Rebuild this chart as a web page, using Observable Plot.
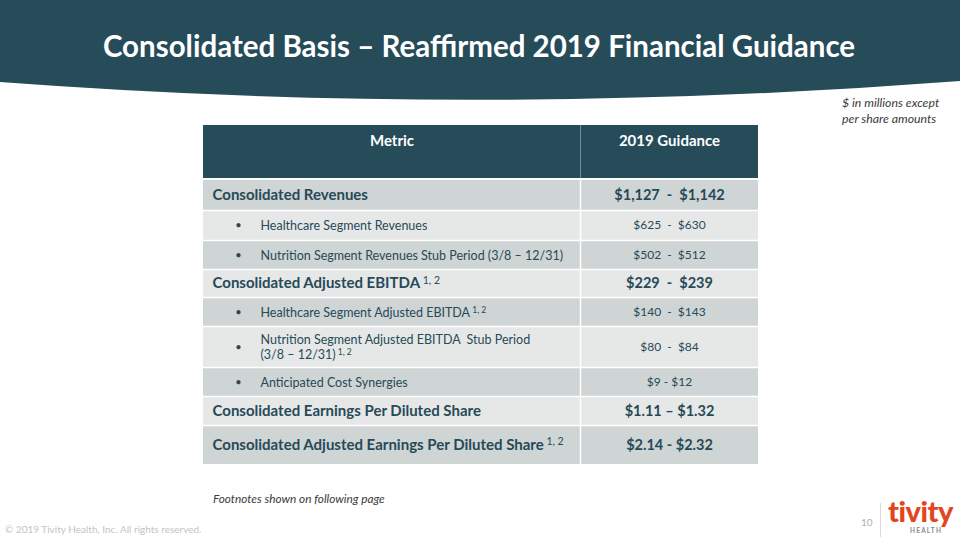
<!DOCTYPE html>
<html><head><meta charset="utf-8">
<script src="https://cdn.jsdelivr.net/npm/d3@7"></script>
<script src="https://cdn.jsdelivr.net/npm/@observablehq/plot@0.6"></script>
<style>
html,body{margin:0;padding:0;background:#fff}
body{width:960px;height:540px;position:relative;overflow:hidden;font-family:Lato,"Open Sans",sans-serif}
#banner{position:absolute;left:0;top:0}
#title{position:absolute;left:0;top:28px;width:958px;text-align:center;color:#fff;font-weight:700;font-size:29.5px;line-height:36px;white-space:nowrap}
#unit{position:absolute;left:842px;top:95px;font-style:italic;font-size:12.3px;line-height:16px;color:#3a3a3a}
#table{position:absolute;left:203px;top:125px}
#foot{position:absolute;left:213px;top:491px;font-style:italic;font-size:11.8px;color:#3a3a3a}
#copy{position:absolute;left:5px;top:523px;font-size:10px;color:#c4c4c4}
#page{position:absolute;left:861px;top:516px;font-size:10px;color:#b0b0b0}
#sep{position:absolute;left:880px;top:503px;width:1px;height:34px;background:#dcdcdc}
#logo{position:absolute;left:888px;top:496px;font-weight:900;font-size:29px;color:#e2461d;letter-spacing:-0.5px;line-height:30px}
#health{position:absolute;left:910px;top:527px;font-size:6.5px;font-weight:700;letter-spacing:1.2px;color:#8a8a8a}
</style></head>
<body>
<svg id="banner" width="960" height="110"><path d="M0,0H960V81Q480,118 0,82Z" fill="#264c5a"/></svg>
<div id="title">Consolidated Basis – Reaffirmed 2019 Financial Guidance</div>
<div id="unit">$ in millions except<br>per share amounts</div>
<div id="table"></div>
<div id="foot">Footnotes shown on following page</div>
<div id="copy">© 2019 Tivity Health, Inc. All rights reserved.</div>
<div id="page">10</div>
<div id="sep"></div>
<div id="logo">tivity</div>
<div id="health">HEALTH</div>
<script>
// ---- data ----
const columns = ["Metric", "2019 Guidance"];
const metrics = [
  "Consolidated Revenues",
  "Healthcare Segment Revenues",
  "Nutrition Segment Revenues Stub Period (3/8 – 12/31)",
  "Consolidated Adjusted EBITDA",
  "Healthcare Segment Adjusted EBITDA",
  "Nutrition Segment Adjusted EBITDA  Stub Period\n(3/8 – 12/31)",
  "Anticipated Cost Synergies",
  "Consolidated Earnings Per Diluted Share",
  "Consolidated Adjusted Earnings Per Diluted Share"
];
const guidance = [
  "$1,127  -  $1,142",
  "$625  -  $630",
  "$502  -  $512",
  "$229  -  $239",
  "$140  -  $143",
  "$80  -  $84",
  "$9 - $12",
  "$1.11 – $1.32",
  "$2.14 - $2.32"
];
const rowKind = ["total","segment","segment","total","segment","segment","segment","total","total"];
const footnotes = ["", "", "", "1, 2", "1, 2", "1, 2", "", "", "1, 2"];

// ---- layout ----
const W = 555, headerH = 53, gap = 2;
const rowH = [30, 30, 29, 28, 29, 41, 29, 29, 39];
const colEdge = [0, 377, 555];
let acc = headerH + gap;
const rows = metrics.map((m, i) => {
  const r = {i, metric: m, guidance: guidance[i], kind: rowKind[i], note: footnotes[i], y1: acc, y2: acc + rowH[i]};
  acc += rowH[i];
  return r;
});
const H = acc + 2;
const head = columns.map((c, i) => ({c, x1: colEdge[i], x2: colEdge[i + 1]}));
const ink = "#264a57";
const mid = r => (r.y1 + r.y2) / 2;
const totals = rows.filter(r => r.kind === "total");
const segs = rows.filter(r => r.kind === "segment");

const chart = Plot.plot({
  width: W, height: H,
  marginTop: 0, marginRight: 0, marginBottom: 0, marginLeft: 0,
  x: {domain: [0, W], range: [0, W], axis: null},
  y: {domain: [0, H], range: [0, H], axis: null},
  style: {fontFamily: "Lato, 'Open Sans', sans-serif", background: "transparent", overflow: "visible"},
  marks: [
    Plot.rect(head, {x1: "x1", x2: "x2", y1: 0, y2: headerH, fill: "#264c5a"}),
    Plot.ruleX([colEdge[1]], {y1: 0, y2: headerH, stroke: "#6f8d97", strokeWidth: 1}),
    Plot.rect(rows.filter(r => r.i % 2 === 0), {x1: 0, x2: W, y1: "y1", y2: "y2", fill: "#cfd4d4"}),
    Plot.rect(rows.filter(r => r.i % 2 === 1), {x1: 0, x2: W, y1: "y1", y2: "y2", fill: "#e6e8e8"}),
    Plot.ruleY(rows.slice(1), {y: "y1", x1: 0, x2: W, stroke: "#ffffff", strokeWidth: 1.5}),
    Plot.ruleX([colEdge[1]], {y1: headerH + gap, y2: acc, stroke: "#ffffff", strokeWidth: 1.5}),
    Plot.text(head, {x: d => (d.x1 + d.x2) / 2, y: 16, text: "c", fill: "#ffffff", fontWeight: "bold", fontSize: 15}),
    Plot.text(segs, {x: 35, y: mid, text: () => "•", fill: ink, fontSize: 11}),
    Plot.text(totals, {x: 9, y: mid, text: "metric", textAnchor: "start", fill: ink, fontWeight: "bold", fontSize: 15}),
    Plot.text(segs, {x: 57, y: mid, text: "metric", textAnchor: "start", fill: ink, fontSize: 12.5, lineHeight: 1.15}),
    Plot.text(totals, {x: (colEdge[1] + colEdge[2]) / 2, y: mid, text: "guidance", fill: ink, fontWeight: "bold", fontSize: 14.5}),
    Plot.text(segs, {x: (colEdge[1] + colEdge[2]) / 2, y: mid, text: "guidance", fill: ink, fontSize: 12})
  ]
});

// superscript footnote markers on the metric labels
const textGroups = d3.select(chart).selectAll('g[aria-label="text"]').nodes();
function addNotes(group, data, size) {
  if (!group) return;
  d3.select(group).selectAll("text").each(function(_, k) {
    const r = data[k];
    if (!r || !r.note) return;
    const t = d3.select(this);
    const tsp = t.selectAll("tspan");
    const host = tsp.empty() ? t : d3.select(tsp.nodes()[tsp.size() - 1]);
    host.append("tspan").attr("font-size", size).attr("font-weight", "normal").attr("dy", "-0.45em").text("\u00a0" + r.note);
  });
}
addNotes(textGroups[2], totals, 10.5);
addNotes(textGroups[3], segs, 8.5);
document.getElementById("table").append(chart);
</script>
</body></html>
